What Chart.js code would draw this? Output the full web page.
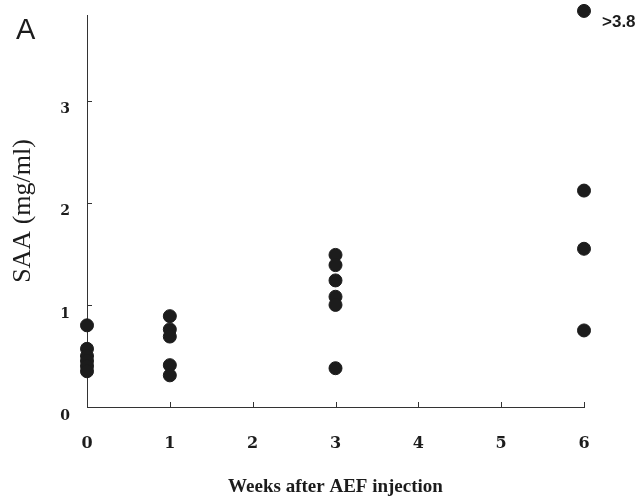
<!DOCTYPE html>
<html>
<head>
<meta charset="utf-8">
<script src="https://cdn.jsdelivr.net/npm/chart.js@4.4.1/dist/chart.umd.min.js"></script>
<style>
  html, body { margin: 0; padding: 0; background: #fff; }
  #wrap { width: 644px; height: 498px; }
</style>
</head>
<body>
<div id="wrap"><canvas id="saaChart" width="644" height="498"></canvas></div>
<script>
// SAA values, one array per week
const weeks = [0, 1, 3, 6];
const week0 = [0.80, 0.57, 0.50, 0.45, 0.40, 0.35];
const week1 = [0.89, 0.76, 0.69, 0.41, 0.31];
const week3 = [1.49, 1.39, 1.24, 1.08, 1.00, 0.38];
const week6 = [3.88, 2.12, 1.55, 0.75];
const xTicks = [0, 1, 2, 3, 4, 5, 6];
const yTicks = [0, 1, 2, 3];
const topNote = '>3.8';

const groups = [week0, week1, week3, week6];
const points = [];
groups.forEach((vals, i) => {
    vals.forEach(v => points.push({ x: weeks[i], y: v }));
});

const ink = '#1c1c1c';
const serif = "'Liberation Serif', 'DejaVu Serif', serif";
const tickFont = "'DejaVu Serif', 'Liberation Serif', serif";

// small inward tick marks + panel letter + ">3.8" note
const extras = {
    id: 'extras',
    afterDraw(chart) {
        const ctx = chart.ctx;
        const xs = chart.scales.x;
        const ys = chart.scales.y;
        ctx.save();
        ctx.strokeStyle = '#333';
        ctx.lineWidth = 1;
        ctx.beginPath();
        xTicks.forEach(t => {
            if (t === 0) return;
            const px = Math.round(xs.getPixelForValue(t)) + 0.5;
            ctx.moveTo(px, ys.bottom);
            ctx.lineTo(px, ys.bottom - 5);
        });
        yTicks.forEach(t => {
            if (t === 0) return;
            const py = Math.round(ys.getPixelForValue(t)) + 0.5;
            ctx.moveTo(xs.left, py);
            ctx.lineTo(xs.left + 5, py);
        });
        ctx.stroke();

        ctx.fillStyle = ink;
        ctx.font = "29px 'Liberation Sans', Arial, sans-serif";
        ctx.textAlign = 'left';
        ctx.textBaseline = 'top';
        ctx.fillText('A', 16, 16);

        // note next to the highest point
        const meta = chart.getDatasetMeta(0);
        const idx = points.length - week6.length;
        const el = meta.data[idx];
        ctx.font = "bold 17px 'Liberation Sans', Arial, sans-serif";
        ctx.textBaseline = 'middle';
        ctx.fillText(topNote, el.x + 18, el.y + 11);
        ctx.restore();
    }
};

new Chart(document.getElementById('saaChart').getContext('2d'), {
    type: 'scatter',
    data: {
        datasets: [{
            label: 'SAA',
            data: points,
            backgroundColor: ink,
            borderColor: ink,
            pointRadius: 6.5,
            pointHoverRadius: 6.5,
            clip: false
        }]
    },
    options: {
        responsive: false,
        animation: false,
        layout: { autoPadding: false, padding: { top: 15, right: 60, left: 0, bottom: 0 } },
        plugins: {
            legend: { display: false },
            tooltip: { enabled: false }
        },
        scales: {
            x: {
                type: 'linear',
                min: 0,
                max: 6,
                afterBuildTicks: scale => { scale.ticks = xTicks.map(v => ({ value: v })); },
                afterFit: scale => { scale.height = 91; },
                grid: { display: false, drawTicks: false },
                border: { display: true, color: '#333', width: 1 },
                ticks: {
                    color: ink,
                    padding: 27,
                    font: { family: tickFont, size: 16, weight: 'bold' }
                },
                title: {
                    display: true,
                    text: 'Weeks after AEF injection',
                    color: ink,
                    padding: { top: 0, bottom: 0 },
                    font: { family: serif, size: 19, weight: 'bold' }
                }
            },
            y: {
                min: 0,
                max: 3.84,
                afterBuildTicks: scale => { scale.ticks = yTicks.map(v => ({ value: v })); },
                afterFit: scale => {
                    scale.width = 87;
                    // labels are far from the axis ends, so no extra room needed
                    scale.paddingTop = 0;
                    scale.paddingBottom = 0;
                },
                grid: { display: false, drawTicks: false },
                border: { display: true, color: '#333', width: 1 },
                ticks: {
                    color: ink,
                    padding: 17,
                    labelOffset: 9,
                    font: { family: tickFont, size: 14, weight: 'bold' }
                },
                title: {
                    display: true,
                    text: 'SAA (mg/ml)',
                    color: ink,
                    padding: { top: 8, bottom: 0 },
                    font: { family: serif, size: 26 }
                }
            }
        }
    },
    plugins: [extras]
});
</script>
</body>
</html>
